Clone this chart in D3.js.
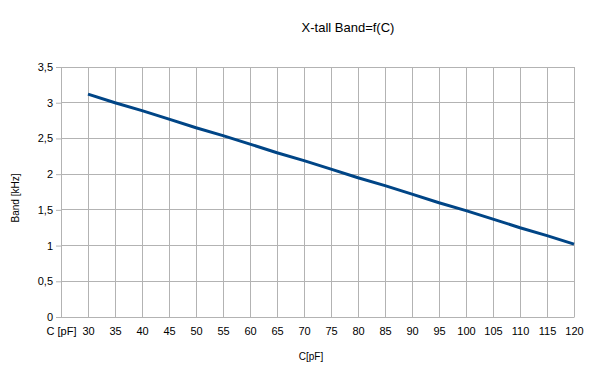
<!DOCTYPE html>
<html><head><meta charset="utf-8">
<script src="https://cdn.jsdelivr.net/npm/d3@7"></script>
<style>body{margin:0;background:#fff}svg{display:block;font-family:"Liberation Sans",Arial,sans-serif}</style>
</head><body><svg id="c" width="600" height="374"></svg>
<script>
const categories = ["C [pF]","30","35","40","45","50","55","60","65","70","75","80","85","90","95","100","105","110","115","120"];
const capacitance = [30,35,40,45,50,55,60,65,70,75,80,85,90,95,100,105,110,115,120];
const band = [3.12,3.00,2.89,2.77,2.65,2.54,2.42,2.30,2.19,2.07,1.95,1.84,1.72,1.60,1.49,1.37,1.25,1.14,1.02];
const yTicks = [0,0.5,1,1.5,2,2.5,3,3.5];
const title = "X-tall Band=f(C)";
const xTitle = "C[pF]";
const yTitle = "Band [kHz]";

const svg = d3.select("#c");
const L = 61, R = 574, T = 67, B = 317;
const x = d3.scalePoint().domain(categories).range([L, R]).padding(0);
const y = d3.scaleLinear().domain([0, 3.5]).range([B, T]);
const fmt = d => String(d).replace(".", ",");
const grid = "#b3b3b3";

// horizontal grid
svg.append("g").selectAll("line").data(yTicks).join("line")
  .attr("x1", L).attr("x2", R).attr("y1", d => y(d)).attr("y2", d => y(d))
  .attr("stroke", grid).attr("stroke-width", 1).attr("shape-rendering","crispEdges");
// vertical grid
svg.append("g").selectAll("line").data(categories).join("line")
  .attr("x1", d => x(d)).attr("x2", d => x(d)).attr("y1", T).attr("y2", B)
  .attr("stroke", grid).attr("stroke-width", 1).attr("shape-rendering","crispEdges");

// y axis
const ya = svg.append("g").attr("transform", `translate(${L},0)`)
  .call(d3.axisLeft(y).tickValues(yTicks).tickFormat(fmt).tickSize(5).tickPadding(3));
ya.select(".domain").attr("stroke", grid);
ya.selectAll(".tick line").attr("stroke", grid);
ya.selectAll("text").attr("font-size", 11).attr("fill", "#000")
  .attr("font-family", "Liberation Sans, Arial, sans-serif");

// x axis
const xa = svg.append("g").attr("transform", `translate(0,${B})`)
  .call(d3.axisBottom(x).tickSize(0).tickPadding(10));
xa.select(".domain").attr("stroke", grid);
xa.selectAll("text").attr("font-size", 11).attr("fill", "#000")
  .attr("font-family", "Liberation Sans, Arial, sans-serif");

// line
const pts = capacitance.map((c, i) => [String(c), band[i]]);
svg.append("path").datum(pts)
  .attr("fill", "none").attr("stroke", "#004586").attr("stroke-width", 3)
  .attr("stroke-linejoin","round")
  .attr("d", d3.line().x(d => x(d[0])).y(d => y(d[1])));

// titles
svg.append("text").attr("x", 348).attr("y", 32).attr("text-anchor", "middle")
  .attr("font-size", 13).attr("fill", "#000").text(title);
svg.append("text").attr("x", 311).attr("y", 360).attr("text-anchor", "middle")
  .attr("font-size", 10).attr("fill", "#000").text(xTitle);
svg.append("text").attr("transform", "translate(19,198) rotate(-90)").attr("text-anchor", "middle")
  .attr("font-size", 10).attr("fill", "#000").text(yTitle);
</script></body></html>
